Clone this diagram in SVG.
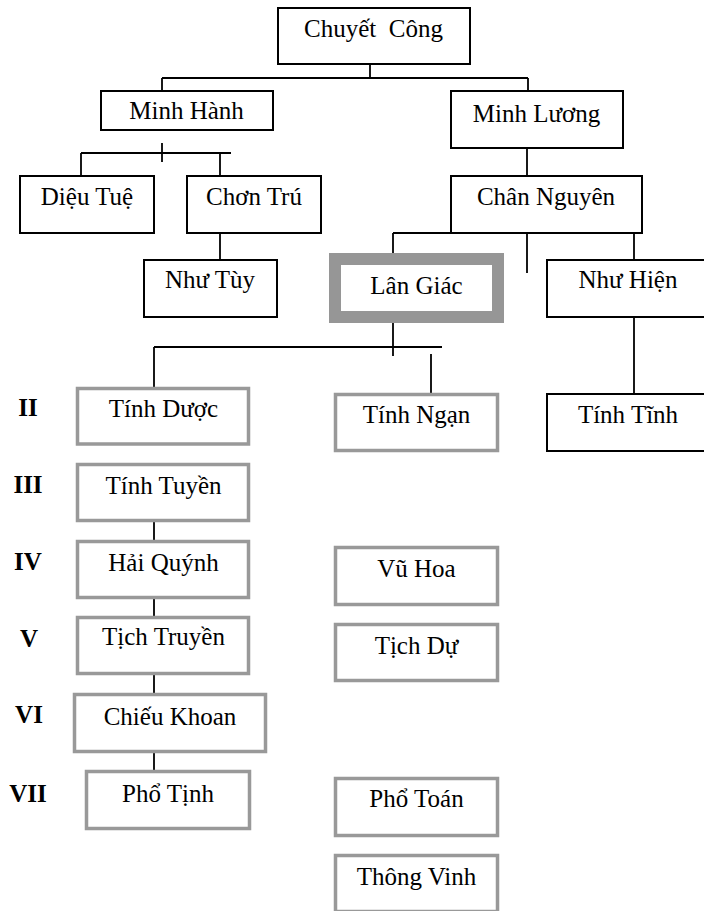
<svg xmlns="http://www.w3.org/2000/svg" width="704" height="911" viewBox="0 0 704 911">
<style>
  .bk { fill: #ffffff; stroke: #000000; stroke-width: 2; }
  .gr { fill: #ffffff; stroke: #999999; stroke-width: 3.5; }
  .thick { fill: #ffffff; stroke: #969696; stroke-width: 12; }
  .t { font-family: "Liberation Serif", "Times New Roman", serif; font-size: 25px; text-anchor: middle; fill: #000; }
  .r { font-family: "Liberation Serif", "Times New Roman", serif; font-size: 25px; font-weight: bold; text-anchor: middle; fill: #000; }
  .ln { stroke: #000000; stroke-width: 1.8; fill: none; }
</style>
<rect width="704" height="911" fill="#ffffff"/>
<g id="connectors">
  <line class="ln" x1="370" y1="56" x2="370" y2="78"/>
  <line class="ln" x1="162" y1="78" x2="528" y2="78"/>
  <line class="ln" x1="162" y1="78" x2="162" y2="91"/>
  <line class="ln" x1="528" y1="78" x2="528" y2="91"/>
  <line class="ln" x1="162" y1="143" x2="162" y2="162"/>
  <line class="ln" x1="81" y1="153" x2="231" y2="153"/>
  <line class="ln" x1="81" y1="153" x2="81" y2="176"/>
  <line class="ln" x1="220" y1="153" x2="220" y2="176"/>
  <line class="ln" x1="527" y1="148" x2="527" y2="176"/>
  <line class="ln" x1="220" y1="233" x2="220" y2="260"/>
  <line class="ln" x1="393" y1="233" x2="451" y2="233"/>
  <line class="ln" x1="393" y1="233" x2="393" y2="254"/>
  <line class="ln" x1="527" y1="233" x2="527" y2="273"/>
  <line class="ln" x1="634" y1="233" x2="634" y2="260"/>
  <line class="ln" x1="393" y1="322" x2="393" y2="356"/>
  <line class="ln" x1="154" y1="347" x2="442" y2="347"/>
  <line class="ln" x1="154" y1="347" x2="154" y2="388"/>
  <line class="ln" x1="431" y1="354" x2="431" y2="394"/>
  <line class="ln" x1="634" y1="317" x2="634" y2="394"/>
  <line class="ln" x1="154" y1="522" x2="154" y2="541"/>
  <line class="ln" x1="154" y1="599" x2="154" y2="617"/>
  <line class="ln" x1="154" y1="675" x2="154" y2="694"/>
  <line class="ln" x1="154" y1="753" x2="154" y2="771"/>
</g>
<g id="n-chuyet-cong"><rect class="bk" x="278" y="8" width="192" height="56"/><text class="t" x="373.5" y="37" xml:space="preserve">Chuyết  Công</text></g>
<g id="n-minh-hanh"><rect class="bk" x="101" y="91" width="172" height="39"/><text class="t" x="186.5" y="119">Minh Hành</text></g>
<g id="n-minh-luong"><rect class="bk" x="451" y="91" width="172" height="57"/><text class="t" x="536.5" y="122">Minh Lương</text></g>
<g id="n-dieu-tue"><rect class="bk" x="20" y="176" width="134" height="57"/><text class="t" x="87" y="205">Diệu Tuệ</text></g>
<g id="n-chon-tru"><rect class="bk" x="187" y="176" width="134" height="57"/><text class="t" x="254" y="205">Chơn Trú</text></g>
<g id="n-chan-nguyen"><rect class="bk" x="451" y="176" width="191" height="57"/><text class="t" x="546" y="205">Chân Nguyên</text></g>
<g id="n-nhu-tuy"><rect class="bk" x="144" y="260" width="133" height="57"/><text class="t" x="210" y="288">Như Tùy</text></g>
<g id="n-lan-giac"><rect class="thick" x="335" y="259" width="163" height="58"/><text class="t" x="416.5" y="294">Lân Giác</text></g>
<g id="n-nhu-hien"><rect class="bk" x="547" y="260" width="165" height="57"/><text class="t" x="628" y="288">Như Hiện</text></g>
<g id="n-tinh-tinh"><rect class="bk" x="547" y="394" width="165" height="57"/><text class="t" x="628" y="423">Tính Tĩnh</text></g>
<g id="n-tinh-duoc"><rect class="gr" x="77.5" y="388.5" width="171" height="55.5"/><text class="t" x="163.5" y="417">Tính Dược</text></g>
<g id="n-tinh-ngan"><rect class="gr" x="335.5" y="394.5" width="162" height="56"/><text class="t" x="416.5" y="423">Tính Ngạn</text></g>
<g id="n-tinh-tuyen"><rect class="gr" x="77.5" y="464.5" width="171" height="56"/><text class="t" x="163.5" y="494">Tính Tuyền</text></g>
<g id="n-hai-quynh"><rect class="gr" x="77.5" y="541.5" width="171" height="56"/><text class="t" x="163.5" y="571">Hải Quýnh</text></g>
<g id="n-vu-hoa"><rect class="gr" x="335.5" y="547.5" width="162" height="57"/><text class="t" x="416.5" y="577">Vũ Hoa</text></g>
<g id="n-tich-truyen"><rect class="gr" x="77.5" y="617.5" width="171" height="56"/><text class="t" x="163.5" y="645">Tịch Truyền</text></g>
<g id="n-tich-du"><rect class="gr" x="335.5" y="624.5" width="162" height="56"/><text class="t" x="416.5" y="654">Tịch Dự</text></g>
<g id="n-chieu-khoan"><rect class="gr" x="74.5" y="694.5" width="191" height="57"/><text class="t" x="170" y="725">Chiếu Khoan</text></g>
<g id="n-pho-tinh"><rect class="gr" x="86.5" y="771.5" width="163" height="57"/><text class="t" x="168" y="802">Phổ Tịnh</text></g>
<g id="n-pho-toan"><rect class="gr" x="335.5" y="778.5" width="162" height="57"/><text class="t" x="416.5" y="807">Phổ Toán</text></g>
<g id="n-thong-vinh"><rect class="gr" x="335.5" y="855.5" width="162" height="56"/><text class="t" x="416.5" y="885">Thông Vinh</text></g>
<g id="labels">
  <text class="r" x="28" y="416">II</text>
  <text class="r" x="28" y="493">III</text>
  <text class="r" x="28" y="570">IV</text>
  <text class="r" x="29" y="647">V</text>
  <text class="r" x="29" y="723">VI</text>
  <text class="r" x="28" y="802">VII</text>
</g>
</svg>
